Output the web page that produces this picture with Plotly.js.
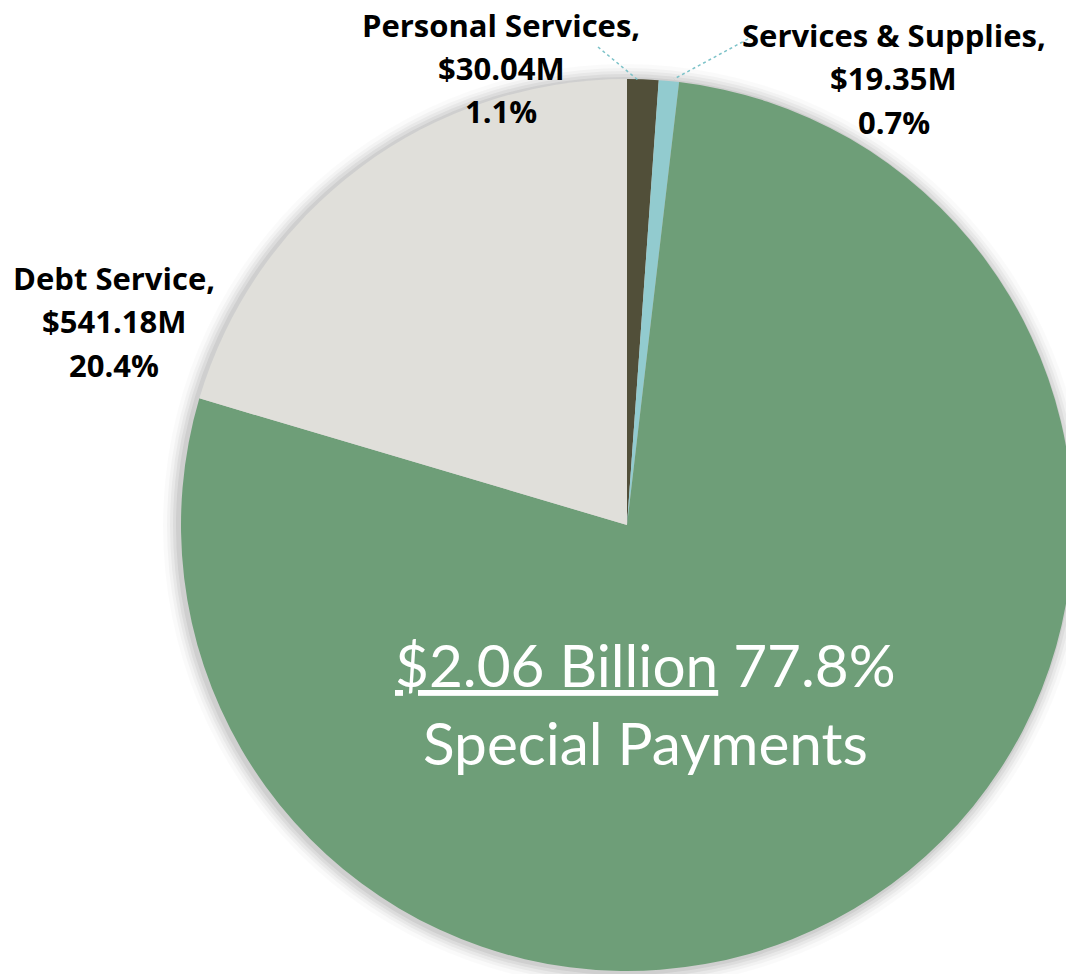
<!DOCTYPE html>
<html>
<head>
<meta charset="utf-8">
<script src="https://cdn.plot.ly/plotly-3.0.1.min.js"></script>
<style>
html,body{margin:0;padding:0;overflow:hidden;background:#fff;}
#chart{width:1080px;height:974px;}
</style>
</head>
<body>
<div id="chart"></div>
<script>
// ---- data ----
var categories = ["Personal Services", "Services & Supplies", "Special Payments", "Debt Service"];
var valuesM = [30.04, 19.35, 2060, 541.18];
var valueLabels = ["$30.04M", "$19.35M", "$2.06 Billion", "$541.18M"];
var pctLabels = ["1.1%", "0.7%", "77.8%", "20.4%"];
var colors = ["#514F39", "#92CBCF", "#6E9E78", "#E0DFDA"];

// ---- layout helpers ----
var W = 1080, H = 974;
function px(x){ return x / W; }
function py(y){ return 1 - y / H; }
var cx = 627, cy = 525, R = 446;

var boldFont = {family: "'Open Sans', Lato, sans-serif", size: 31, color: "#000"};
var bigFont = {family: "Lato, 'Open Sans', sans-serif", size: 58.5, color: "#fff"};

function lineAnn(text, x, y, font){
  return {text: text, x: px(x), y: py(y), xref: "paper", yref: "paper",
          xanchor: "center", yanchor: "middle", showarrow: false, font: font};
}

var annotations = [
  lineAnn("<b>" + categories[0] + ",</b>", 501, 25, boldFont),
  lineAnn("<b>" + valueLabels[0] + "</b>", 501, 68, boldFont),
  lineAnn("<b>" + pctLabels[0] + "</b>", 501, 111, boldFont),
  lineAnn("<b>" + categories[1] + ",</b>", 894, 35, boldFont),
  lineAnn("<b>" + valueLabels[1] + "</b>", 894, 78, boldFont),
  lineAnn("<b>" + pctLabels[1] + "</b>", 894, 122, boldFont),
  lineAnn("<b>" + categories[3] + ",</b>", 114, 278, boldFont),
  lineAnn("<b>" + valueLabels[3] + "</b>", 114, 321, boldFont),
  lineAnn("<b>" + pctLabels[3] + "</b>", 114, 365, boldFont),
  lineAnn("<u>" + valueLabels[2] + "</u> " + pctLabels[2], 645, 664, bigFont),
  lineAnn(categories[2], 645, 742, bigFont)
];

var shapes = [];
// soft shadow around the pie
var shadowSteps = [[16, 0.02], [12, 0.03], [9, 0.04], [6, 0.05], [3, 0.06]];
shadowSteps.forEach(function(s){
  var r = R + s[0];
  shapes.push({type: "circle", xref: "paper", yref: "paper", layer: "below",
    x0: px(cx - r - 2), x1: px(cx + r - 2), y0: py(cy + r + 1), y1: py(cy - r + 1),
    fillcolor: "rgba(0,0,0," + s[1] + ")", line: {width: 0}});
});
// leader lines
shapes.push({type: "line", xref: "paper", yref: "paper", x0: px(598), y0: py(47), x1: px(638), y1: py(80),
  line: {color: "#7CC2C8", width: 1.5, dash: "dot"}});
shapes.push({type: "line", xref: "paper", yref: "paper", x0: px(748), y0: py(39), x1: px(674), y1: py(79),
  line: {color: "#7CC2C8", width: 1.5, dash: "dot"}});

var trace = {
  type: "pie",
  labels: categories,
  values: valuesM,
  sort: false,
  direction: "clockwise",
  rotation: 0,
  textinfo: "none",
  hoverinfo: "label+value+percent",
  marker: {colors: colors, line: {width: 0}},
  domain: {x: [px(cx - R), px(cx + R)], y: [py(cy + R), py(cy - R)]},
  showlegend: false
};

var layout = {
  width: W, height: H,
  margin: {l: 0, r: 0, t: 0, b: 0},
  paper_bgcolor: "#fff",
  plot_bgcolor: "#fff",
  showlegend: false,
  annotations: annotations,
  shapes: shapes
};

Plotly.newPlot("chart", [trace], layout, {displayModeBar: false, staticPlot: true});
</script>
</body>
</html>
